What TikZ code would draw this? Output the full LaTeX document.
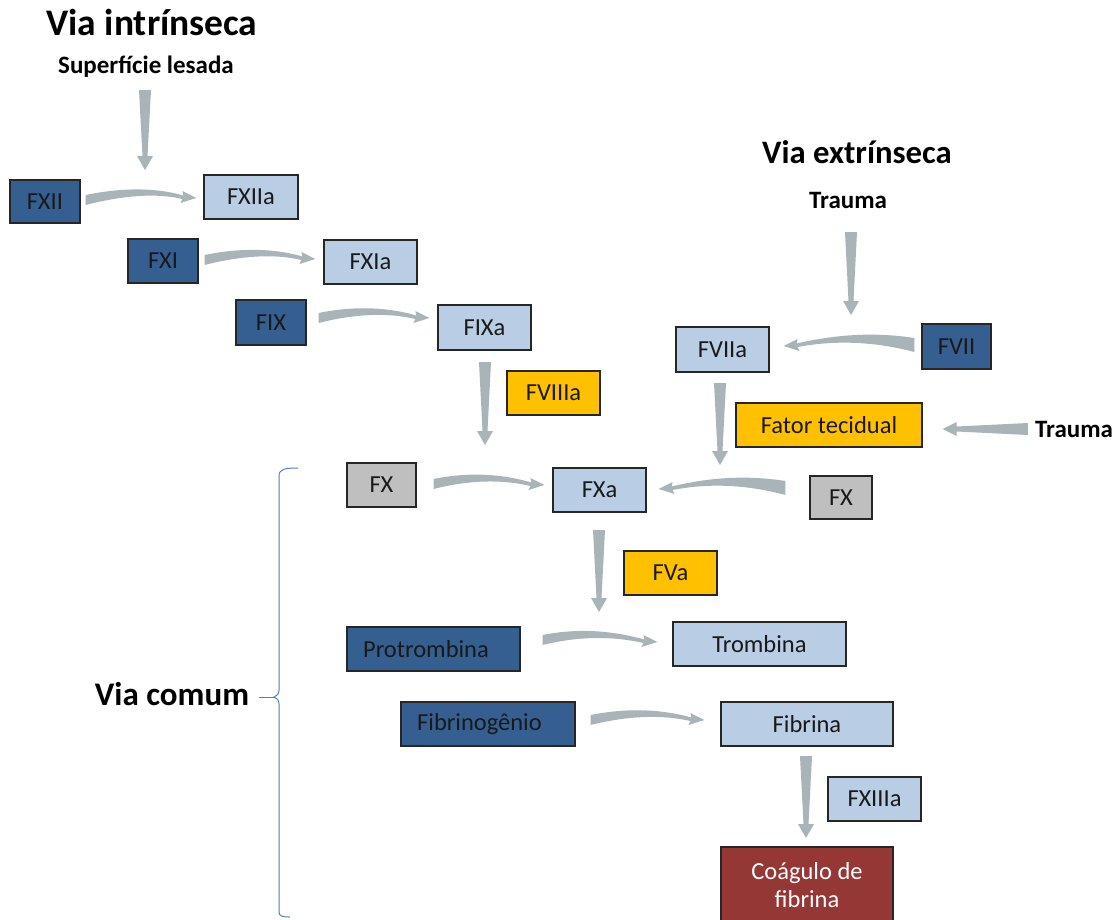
\documentclass[tikz,border=0pt]{standalone}
\usepackage{fontspec}
\setmainfont{Carlito}
\usetikzlibrary{calc}
\definecolor{dkblue}{HTML}{365F91}
\definecolor{ltblue}{HTML}{B9CDE5}
\definecolor{orng}{HTML}{FFC000}
\definecolor{gry}{HTML}{BFBFBF}
\definecolor{dkred}{HTML}{953735}
\definecolor{arrowgrey}{HTML}{A9B4B9}
\definecolor{braceblue}{HTML}{4F81BD}
\newcommand\tarrowR[2]{%
  \fill[arrowgrey] let \p1=(#1), \p2=(#2), \n1={\x2-\x1} in
  (\x1,\y1+5pt) .. controls (\x1+0.35*\n1,\y1+13pt) and (\x2-0.35*\n1,\y2+10pt) .. (\x2-13pt,\y2+2.5pt)
  -- (\x2-14pt,\y2+7pt) -- (\x2,\y2) -- (\x2-16pt,\y2-5pt) -- (\x2-14pt,\y2-1pt)
  .. controls (\x2-0.35*\n1,\y2+5pt) and (\x1+0.35*\n1,\y1+5pt) .. (\x1,\y1-5pt) -- cycle;}
\newcommand\tarrowL[2]{%
  \fill[arrowgrey] let \p1=(#1), \p2=(#2), \n1={\x1-\x2} in
  (\x1,\y1+7pt) .. controls (\x1-0.35*\n1,\y1+14pt) and (\x2+0.35*\n1,\y2+10pt) .. (\x2+13pt,\y2+2.5pt)
  -- (\x2+14pt,\y2+7pt) -- (\x2,\y2) -- (\x2+16pt,\y2-5pt) -- (\x2+14pt,\y2-1pt)
  .. controls (\x2+0.35*\n1,\y2+5pt) and (\x1-0.35*\n1,\y1+5pt) .. (\x1,\y1-7pt) -- cycle;}
\newcommand\tarrowD[2]{%
  \fill[arrowgrey] let \p1=(#1), \p2=(#2) in
  (\x1-6pt,\y1) -- (\x1+6pt,\y1) -- (\x2+2.5pt,\y2+14pt) -- (\x2+8pt,\y2+14pt) -- (\x2,\y2)
  -- (\x2-8pt,\y2+14pt) -- (\x2-2.5pt,\y2+14pt) -- cycle;}
\newcommand\tarrowH[2]{%
  \fill[arrowgrey] let \p1=(#1), \p2=(#2) in
  (\x1,\y1+6pt) -- (\x1,\y1-6pt) -- (\x2+14pt,\y2-2.5pt) -- (\x2+14pt,\y2-7pt) -- (\x2,\y2)
  -- (\x2+14pt,\y2+7pt) -- (\x2+14pt,\y2+2.5pt) -- cycle;}
\begin{document}
\begin{tikzpicture}[x=1pt,y=-1pt,
  box/.style={draw=black!85, line width=1.2pt, inner sep=0pt, font=\fontsize{24.5}{28}\selectfont, text=black!90},
  inact/.style={box, fill=dkblue},
  act/.style={box, fill=ltblue},
  cof/.style={box, fill=orng},
  grbox/.style={box, fill=gry},
  clot/.style={box, fill=dkred, text=white, align=center, font=\fontsize{24.5}{28}\selectfont},
  head/.style={font=\bfseries\fontsize{37.5}{40}\selectfont, inner sep=0pt},
  lbl/.style={font=\bfseries\fontsize{25}{28}\selectfont, inner sep=0pt}]
\useasboundingbox (0,0) rectangle (1119,919);
\fill[white] (0,0) rectangle (1119,919);
% headings and labels
\node[head] (vint) at (152,22) {Via intrínseca};
\node[lbl] (sup) at (146,67) {Superfície lesada};
\node[head, font=\bfseries\fontsize{32.7}{36}\selectfont] (vext) at (857,152) {Via extrínseca};
\node[lbl] (tr1) at (848,200) {Trauma};
\node[lbl] (tr2) at (1074,429) {Trauma};
\node[head, font=\bfseries\fontsize{33}{36}\selectfont] (vcom) at (172,694) {Via comum};
% boxes
\node[inact, minimum width=70, minimum height=43] (fxii) at (45,201.5) {FXII};
\node[act, minimum width=94, minimum height=44] (fxiia) at (251,197) {FXIIa};
\node[inact, minimum width=70, minimum height=44] (fxi) at (163,261) {FXI};
\node[act, minimum width=93, minimum height=44] (fxia) at (370.5,262) {FXIa};
\node[inact, minimum width=70, minimum height=45] (fix) at (271,322.5) {FIX};
\node[act, minimum width=93, minimum height=45] (fixa) at (484.5,327.5) {FIXa};
\node[cof, minimum width=93, minimum height=44] (fviiia) at (553.5,393) {FVIIIa};
\node[grbox, minimum width=69, minimum height=44] (fx) at (381.5,485) {FX};
\node[act, minimum width=93, minimum height=44] (fxa) at (599.5,490) {FXa};
\node[grbox, minimum width=62, minimum height=43] (fxr) at (841,497.5) {FX};
\node[cof, minimum width=93, minimum height=44] (fva) at (670.5,573) {FVa};
\node[inact, minimum width=173, minimum height=44] (prot) at (433.5,649) {Protrombina\hspace*{15pt}};
\node[act, minimum width=173, minimum height=44] (trom) at (759.5,644) {Trombina};
\node[inact, minimum width=174, minimum height=44] (fibg) at (488,724) {Fibrinogênio\hspace*{17pt}};
\node[act, minimum width=172, minimum height=44] (fibr) at (807,724) {Fibrina};
\node[act, minimum width=93, minimum height=44] (fxiiia) at (874.5,799) {FXIIIa};
\node[clot, minimum width=172, minimum height=76] (coag) at (807,885) {Coágulo de\\fibrina};
\node[act, minimum width=93, minimum height=45] (fviia) at (722.5,349.5) {FVIIa};
\node[inact, minimum width=69, minimum height=45] (fvii) at (956.5,346.5) {FVII};
\node[cof, minimum width=186, minimum height=44] (ft) at (829,425) {Fator tecidual};
% arrow end points
\coordinate (s1) at (145,90);   \coordinate (e1) at (145,170);
\coordinate (s2) at (485,362);  \coordinate (e2) at (485,445);
\coordinate (s3) at (720,383);  \coordinate (e3) at (720,465);
\coordinate (s4) at (599,530);  \coordinate (e4) at (599,612);
\coordinate (s5) at (806,756);  \coordinate (e5) at (806,838);
\coordinate (s6) at (851,232);  \coordinate (e6) at (851,315);
% vertical arrows
\tarrowD{s1}{e1}
\tarrowD{s2}{e2}
\tarrowD{s3}{e3}
\tarrowD{s4}{e4}
\tarrowD{s5}{e5}
\tarrowD{s6}{e6}
% trauma -> fator tecidual
\tarrowH{$(tr2.west)+(-7,0)$}{$(ft.east)+(20,4)$}
% curved activation arrows
\tarrowR{$(fxii.east)+(5,-1.5)$}{$(fxiia.west)+(-7,1)$}
\tarrowR{$(fxi.east)+(6,-1)$}{$(fxia.west)+(-8,-3)$}
\tarrowR{$(fix.east)+(12,-4.5)$}{$(fixa.west)+(-8,-9.5)$}
\tarrowR{$(fx.east)+(17,-1)$}{$(fxa.west)+(-8,-5)$}
\tarrowR{$(prot.east)+(22,-9)$}{$(trom.west)+(-15,-2)$}
\tarrowR{$(fibg.east)+(15,-4)$}{$(fibr.west)+(-16,-4)$}
\tarrowL{$(fvii.west)+(-7,-1.5)$}{$(fviia.east)+(14,-3.5)$}
\tarrowL{$(fxr.west)+(-24,-9.5)$}{$(fxa.east)+(12,-1)$}
% brace
\draw[braceblue, line width=1pt] (298,468) .. controls (285,468) and (279,469) .. (279,476)
  -- (279,690) .. controls (279,694) and (277,696) .. (274,697)
  .. controls (277,698) and (279,700) .. (279,704) -- (279,912)
  .. controls (279,916) and (282,917) .. (290,917);
\coordinate (bt) at (274,697);
\draw[braceblue, line width=1pt] ($(vcom.east)+(10,3)$) -- (bt);
\end{tikzpicture}
\end{document}
